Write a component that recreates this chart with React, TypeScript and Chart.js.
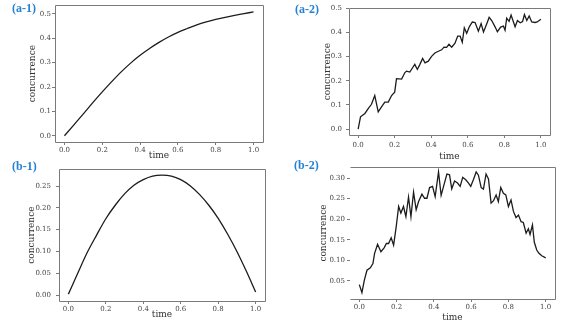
import React, { useEffect, useRef } from "react";
import { Chart, registerables } from "chart.js";

Chart.register(...registerables);

// ---------- data ----------
const timeSmooth = [0, 0.05, 0.1, 0.15, 0.2, 0.25, 0.3, 0.35, 0.4, 0.45, 0.5, 0.55, 0.6, 0.65, 0.7, 0.75, 0.8, 0.85, 0.9, 0.95, 1.0];
const concA1 = [0, 0.045, 0.09, 0.136, 0.18, 0.222, 0.262, 0.298, 0.33, 0.358, 0.383, 0.405, 0.424, 0.44, 0.455, 0.467, 0.477, 0.486, 0.494, 0.501, 0.508];
const concB1 = [0.002, 0.05, 0.097, 0.137, 0.175, 0.206, 0.232, 0.252, 0.265, 0.273, 0.275, 0.273, 0.265, 0.251, 0.231, 0.206, 0.176, 0.14, 0.1, 0.055, 0.007];

const timeA2 = [0, 0.013, 0.037, 0.055, 0.073, 0.091, 0.11, 0.128, 0.146, 0.165, 0.183, 0.2, 0.21, 0.238, 0.256, 0.265, 0.283, 0.298, 0.31, 0.324, 0.338, 0.353, 0.366, 0.384, 0.402, 0.42, 0.439, 0.457, 0.47, 0.484, 0.497, 0.512, 0.53, 0.545, 0.558, 0.57, 0.581, 0.594, 0.609, 0.625, 0.64, 0.658, 0.673, 0.686, 0.704, 0.717, 0.731, 0.75, 0.762, 0.78, 0.795, 0.804, 0.813, 0.826, 0.837, 0.859, 0.872, 0.887, 0.9, 0.91, 0.923, 0.936, 0.95, 0.969, 0.98, 1.0];
const concA2 = [0, 0.051, 0.065, 0.085, 0.103, 0.139, 0.072, 0.092, 0.112, 0.112, 0.139, 0.153, 0.209, 0.207, 0.234, 0.24, 0.236, 0.254, 0.268, 0.247, 0.268, 0.292, 0.274, 0.281, 0.301, 0.315, 0.322, 0.328, 0.339, 0.338, 0.351, 0.339, 0.355, 0.385, 0.385, 0.359, 0.419, 0.396, 0.424, 0.443, 0.441, 0.405, 0.436, 0.402, 0.436, 0.462, 0.449, 0.422, 0.403, 0.422, 0.426, 0.409, 0.459, 0.446, 0.472, 0.423, 0.449, 0.44, 0.445, 0.474, 0.449, 0.468, 0.443, 0.441, 0.443, 0.454];

const timeB2 = [0, 0.014, 0.027, 0.041, 0.059, 0.073, 0.082, 0.098, 0.116, 0.134, 0.145, 0.157, 0.171, 0.184, 0.198, 0.211, 0.223, 0.237, 0.25, 0.264, 0.277, 0.291, 0.305, 0.318, 0.336, 0.35, 0.363, 0.377, 0.393, 0.407, 0.425, 0.439, 0.452, 0.47, 0.484, 0.496, 0.511, 0.527, 0.541, 0.555, 0.571, 0.586, 0.598, 0.612, 0.627, 0.639, 0.654, 0.666, 0.68, 0.693, 0.707, 0.72, 0.734, 0.746, 0.759, 0.773, 0.786, 0.8, 0.814, 0.827, 0.841, 0.854, 0.868, 0.88, 0.895, 0.907, 0.916, 0.929, 0.939, 0.952, 0.964, 0.979, 1.0];
const concB2 = [0.041, 0.0215, 0.052, 0.076, 0.082, 0.092, 0.117, 0.139, 0.121, 0.131, 0.141, 0.141, 0.155, 0.137, 0.182, 0.231, 0.215, 0.231, 0.206, 0.254, 0.206, 0.266, 0.223, 0.243, 0.261, 0.251, 0.251, 0.277, 0.28, 0.255, 0.315, 0.258, 0.28, 0.31, 0.308, 0.274, 0.293, 0.288, 0.28, 0.302, 0.296, 0.288, 0.28, 0.296, 0.315, 0.307, 0.277, 0.273, 0.31, 0.298, 0.239, 0.245, 0.259, 0.243, 0.277, 0.263, 0.259, 0.231, 0.247, 0.219, 0.204, 0.21, 0.194, 0.192, 0.166, 0.177, 0.163, 0.186, 0.144, 0.125, 0.117, 0.111, 0.106];

const xTicks = [0, 0.2, 0.4, 0.6, 0.8, 1.0];
const yTicksA = [0, 0.1, 0.2, 0.3, 0.4, 0.5];
const yTicksB1 = [0, 0.05, 0.1, 0.15, 0.2, 0.25];
const yTicksB2 = [0.05, 0.1, 0.15, 0.2, 0.25, 0.3];
const panelLabels = ["(a-1)", "(a-2)", "(b-1)", "(b-2)"];
const xTitle = "time";
const yTitle = "concurrence";

// ---------- styles ----------
const SERIF = "'DejaVu Serif', serif";
const FRAME = "#7a7a7a";
const LINE = "#1c1c1c";

const framePlugin = {
  id: "frame",
  afterDraw(chart: any, _args: any, opts: any) {
    const { ctx, chartArea } = chart;
    const { left, top, right, bottom } = chartArea;
    ctx.save();
    ctx.strokeStyle = FRAME;
    ctx.lineWidth = 1;
    ctx.beginPath();
    const t = Math.round(top) + 0.5;
    const b = Math.round(bottom) + 0.5;
    const l = Math.round(left) + 0.5;
    const r = Math.round(right) + 0.5;
    ctx.moveTo(l, t);
    ctx.lineTo(r, t);
    ctx.lineTo(r, b);
    ctx.lineTo(l, b);
    if (opts && opts.left !== false) ctx.lineTo(l, t);
    ctx.stroke();
    ctx.restore();
  },
};

type PanelProps = {
  left: number; top: number; width: number; height: number;
  box: { l: number; t: number; r: number; b: number };
  times: number[]; values: number[];
  yMin: number; yMax: number; yTicks: number[]; yDec: number;
  tension: number; showLeft: boolean; xPad: number; yPad: number;
};

function Panel(p: PanelProps) {
  const ref = useRef<HTMLCanvasElement | null>(null);
  useEffect(() => {
    if (!ref.current) return;
    const chart = new Chart(ref.current, {
      type: "line",
      data: {
        datasets: [
          {
            data: p.times.map((t, i) => ({ x: t, y: p.values[i] })),
            borderColor: LINE,
            borderWidth: 1.3,
            pointRadius: 0,
            fill: false,
            tension: p.tension,
            cubicInterpolationMode: p.tension > 0 ? "monotone" : "default",
          } as any,
        ],
      },
      options: {
        animation: false,
        responsive: false,
        layout: {
          padding: {
            left: 0,
            top: p.box.t - p.top,
            right: p.left + p.width - p.box.r,
            bottom: 0,
          },
        },
        plugins: {
          legend: { display: false },
          tooltip: { enabled: false },
          frame: { left: p.showLeft },
        } as any,
        scales: {
          x: {
            type: "linear",
            min: -0.05,
            max: 1.05,
            afterFit: (s: any) => { s.height = p.top + p.height - p.box.b; },
            afterBuildTicks: (s: any) => { s.ticks = xTicks.map((v) => ({ value: v })); },
            grid: { display: true, drawOnChartArea: false, drawTicks: true, tickLength: 3, tickColor: FRAME, color: FRAME },
            border: { display: false },
            ticks: {
              padding: p.xPad,
              autoSkip: false,
              maxRotation: 0,
              color: "#444",
              font: { family: SERIF, size: 7 },
              callback: (v: any) => Number(v).toFixed(1),
            },
            title: { display: true, text: xTitle, color: "#333", padding: 0, font: { family: SERIF, size: 9, lineHeight: 1.2 } },
          },
          y: {
            type: "linear",
            min: p.yMin,
            max: p.yMax,
            afterFit: (s: any) => { s.width = p.box.l - p.left; },
            afterBuildTicks: (s: any) => { s.ticks = p.yTicks.map((v) => ({ value: v })); },
            grid: { display: true, drawOnChartArea: false, drawTicks: true, tickLength: 3, tickColor: FRAME, color: FRAME },
            border: { display: false },
            ticks: {
              padding: p.yPad,
              autoSkip: false,
              color: "#444",
              font: { family: SERIF, size: 7 },
              callback: (v: any) => Number(v).toFixed(p.yDec),
            },
            title: { display: true, text: yTitle, color: "#333", padding: 0, font: { family: SERIF, size: 9, lineHeight: 1.2 } },
          },
        },
      } as any,
      plugins: [framePlugin as any],
    });
    return () => chart.destroy();
  }, []);
  return (
    <div style={{ position: "absolute", left: p.left, top: p.top, width: p.width, height: p.height }}>
      <canvas ref={ref} width={p.width} height={p.height} style={{ display: "block" }} />
    </div>
  );
}

const labelStyle = (left: number, top: number): React.CSSProperties => ({
  position: "absolute",
  left,
  top,
  fontFamily: "'Liberation Serif', serif",
  fontWeight: "bold",
  fontSize: 12,
  lineHeight: "12px",
  color: "#2481d3",
  whiteSpace: "nowrap",
});

export default function App() {
  return (
    <div style={{ position: "absolute", left: 0, top: 0, width: 574, height: 323, background: "#fff", overflow: "hidden" }}>
      <Panel left={27} top={0} width={243} height={161} box={{ l: 55, t: 5, r: 263, b: 142 }}
        times={timeSmooth} values={concA1} yMin={-0.0255} yMax={0.5355} yTicks={yTicksA} yDec={1}
        tension={0.4} showLeft={true} xPad={1} yPad={1} />
      <Panel left={322} top={0} width={240} height={162} box={{ l: 349, t: 6, r: 550, b: 135 }}
        times={timeA2} values={concA2} yMin={-0.024} yMax={0.5} yTicks={yTicksA} yDec={1}
        tension={0} showLeft={true} xPad={3} yPad={4} />
      <Panel left={26} top={160} width={246} height={160} box={{ l: 59, t: 167, r: 265, b: 301 }}
        times={timeSmooth} values={concB1} yMin={-0.01375} yMax={0.28875} yTicks={yTicksB1} yDec={2}
        tension={0.4} showLeft={true} xPad={1} yPad={5} />
      <Panel left={318} top={160} width={244} height={163} box={{ l: 350, t: 167, r: 555, b: 299 }}
        times={timeB2} values={concB2} yMin={0.006} yMax={0.327} yTicks={yTicksB2} yDec={2}
        tension={0} showLeft={false} xPad={1} yPad={2} />
      <div style={labelStyle(12, 2)}>{panelLabels[0]}</div>
      <div style={labelStyle(295, 3)}>{panelLabels[1]}</div>
      <div style={labelStyle(12, 160)}>{panelLabels[2]}</div>
      <div style={labelStyle(294, 159)}>{panelLabels[3]}</div>
    </div>
  );
}
